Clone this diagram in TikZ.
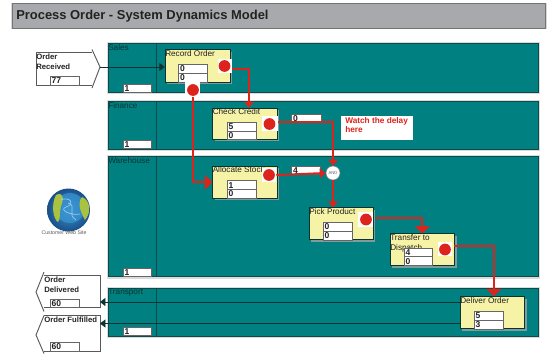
\documentclass[tikz,border=0pt]{standalone}
\usepackage{fontspec}
\setmainfont{Liberation Sans}
\usetikzlibrary{arrows.meta,calc}
\definecolor{lanefill}{HTML}{008080}
\definecolor{laneline}{HTML}{0F4A4A}
\definecolor{stickyfill}{HTML}{F6F2A6}
\definecolor{titlefill}{HTML}{A7A9AC}
\definecolor{flowred}{HTML}{DC241C}
\definecolor{shadowc}{HTML}{7F9C9C}
\definecolor{inkc}{HTML}{222222}
\definecolor{globeblue}{HTML}{3A97D4}
\definecolor{globedark}{HTML}{1A4F88}
\definecolor{globegreen}{HTML}{A9C23F}
\tikzset{
  lanebox/.style={draw=laneline,line width=0.5pt,fill=lanefill,inner sep=0pt},
  taskbox/.style={draw=laneline!70!black,line width=0.4pt,fill=stickyfill,inner sep=0pt},
  valbox/.style={draw=black!60,line width=0.5pt,fill=white,inner xsep=1.2pt,inner ysep=0pt,align=left,font=\fontsize{6.4}{6.4}\selectfont\bfseries,text=inkc},
  freebox/.style={fill=white,inner sep=0pt},
  lbl/.style={inner sep=0pt,anchor=north west,align=left,font=\fontsize{6.15}{7}\selectfont,text=inkc},
  lanelbl/.style={lbl,text=laneline!70!black},
  blbl/.style={lbl,font=\fontsize{5.8}{7.4}\selectfont\bfseries},
  notelbl/.style={lbl,font=\fontsize{6.2}{7.2}\selectfont\bfseries,text=flowred},
  reddot/.style={circle,fill=flowred,inner sep=0pt,minimum size=8.8pt},
  redflow/.style={draw=flowred,line width=1.5pt,-{Triangle[width=7pt,length=4.5pt]}},
  redflowbig/.style={draw=flowred,line width=1.5pt,-{Triangle[width=11pt,length=5.5pt]}},
  blackflow/.style={draw=laneline!70!black,line width=0.5pt,-{Triangle[width=6pt,length=4pt]}},
  gatec/.style={circle,draw=black!50,line width=0.4pt,fill=white,inner sep=0pt,minimum size=10.5pt,font=\fontsize{3.2}{3.2}\selectfont,text=black!60},
  portline/.style={draw=black!65,line width=0.7pt},
}
% name, x1, y1, x2, y2, style, text
\newcommand{\boxxy}[7]{%
  \pgfmathsetmacro{\bw}{(#4-#2)*0.75}%
  \pgfmathsetmacro{\bh}{(#5-#3)*0.75}%
  \node[#6,minimum width=\bw pt,minimum height=\bh pt] (#1) at ({(#2+#4)/2},{(#3+#5)/2}) {#7};%
}
\newcommand{\valxy}[6]{%
  \pgfmathsetmacro{\bw}{(#4-#2)*0.75}%
  \pgfmathsetmacro{\bh}{(#5-#3)*0.75}%
  \pgfmathsetmacro{\tw}{\bw-2.4}%
  \node[valbox,text width=\tw pt,minimum height=\bh pt,text height=4.6pt,text depth=0pt] (#1) at ({(#2+#4)/2},{(#3+#5)/2}) {#6};%
}
\newcommand{\taskxy}[5]{%
  \fill[shadowc] (#2+2,#3+2) rectangle (#4+2,#5+2);%
  \boxxy{#1}{#2}{#3}{#4}{#5}{taskbox}{}%
}
\newcommand{\lanexy}[8]{%
  \fill[black!14] (#2-1,#3-1) rectangle (#4+1.5,#5+2);%
  \boxxy{#1}{#2}{#3}{#4}{#5}{lanebox}{}%
  \draw[laneline,line width=0.5pt] (156.5,#3) -- (156.5,#5);%
  \node[lanelbl] (#1t) at (#2,#3+1) {#6};%
  \valxy{#1v}{123}{#7}{151}{#8}{1}%
}
\newcommand{\dotxy}[6]{%
  \boxxy{#1s}{#2}{#3}{#4}{#5}{freebox}{}%
  \node[reddot] (#1) at (#6) {};%
}
\begin{document}
\begin{tikzpicture}[x=0.75pt,y=-0.75pt]
\useasboundingbox (0,0) rectangle (553,354);
\fill[black!15] (11,2.5) rectangle (546.5,28.5);
\boxxy{title}{12}{3.5}{545.7}{28}{draw=black!55,line width=0.6pt,fill=titlefill,inner sep=0pt}{}
\node[inner sep=0pt,anchor=west,font=\fontsize{9.7}{11}\selectfont\bfseries,text=inkc] (titlet) at (16,16) {Process Order - System Dynamics Model};
% lanes
\lanexy{sales}{108}{43}{538}{92}{Sales}{84}{92}
\lanexy{finance}{108}{101}{538}{149}{Finance}{140.5}{148.5}
\lanexy{ware}{108}{156}{538}{276.5}{Warehouse}{268}{276}
\lanexy{trans}{108}{288}{538}{336}{Transport}{327}{335}
% external ports
\coordinate (rcvtip) at (100,67);
\coordinate (delvtip) at (36,292);
\coordinate (fulftip) at (36,335);
\draw[portline] (92,52.5) -- (36,52.5) -- (36,85) -- (92,85);
\draw[portline] (92,49.5) -- (rcvtip) -- (92,88);
\draw[portline] (44,275.5) -- (100,275.5) -- (100,307.7) -- (44,307.7);
\draw[portline] (44,272) -- (delvtip) -- (44,311.5);
\draw[portline] (44,315.5) -- (100,315.5) -- (100,351) -- (44,351);
\draw[portline] (44,315.5) -- (fulftip) -- (44,353.5);
\node[blbl] (rcvt) at (36,53.5) {Order\\Received};
\node[blbl] (delvt) at (44,276.5) {Order\\Delivered};
\node[blbl] (fulft) at (44,317) {Order Fulfilled};
\valxy{rcvv}{50}{76.5}{79}{85}{77}
\valxy{delvv}{50}{299}{79}{307.7}{60}
\valxy{fulfv}{50}{342}{79}{351}{60}
% globe
\begin{scope}
\clip (68.5,210) circle[radius=21.5];
\shade[inner color=globeblue,outer color=globedark,shading=radial] (68.5,210) circle[radius=21.5];
\fill[globeblue,opacity=0.7] (70,208) circle[radius=15];
\fill[globegreen] (56,195) .. controls (64,191) and (64,200) .. (61,206) .. controls (59,213) and (61,219) .. (58,222) .. controls (53,219) and (51,204) .. (56,195);
\fill[globegreen] (82,197) .. controls (90,200) and (92,212) .. (85,220) .. controls (82,214) and (76,204) .. (82,197);
\draw[white!50!globeblue,line width=0.5pt] (60,200) .. controls (70,196) and (76,204) .. (66,207) .. controls (58,210) and (72,216) .. (80,214) (68,203) .. controls (78,206) and (66,214) .. (76,220);
\end{scope}
\node[inner sep=0pt,font=\fontsize{3.9}{4}\selectfont,text=black!65] (webt) at (64,232.5) {Customer Web Site};
% tasks
\taskxy{rec}{165}{49.5}{230}{82}{}
\node[lbl] (rect) at (165,50) {Record Order};
\valxy{rec1}{178.5}{64}{207.5}{73}{0}
\valxy{rec2}{178.5}{73}{207.5}{82}{0}
\taskxy{chk}{212.5}{108}{277}{139}{}
\node[lbl] (chkt) at (212.5,108.5) {Check Credit};
\valxy{chk1}{227}{122}{256}{131}{5}
\valxy{chk2}{227}{131}{256}{139}{0}
\taskxy{alc}{212.5}{166}{277}{198}{}
\node[lbl] (alct) at (212.5,166.5) {Allocate Stock};
\valxy{alc1}{227}{180.5}{256}{189.5}{1}
\valxy{alc2}{227}{189.5}{256}{198}{0}
\taskxy{pck}{309}{207.7}{373}{239.7}{}
\node[lbl] (pckt) at (309,208.5) {Pick Product};
\valxy{pck1}{323}{222.5}{352}{231}{0}
\valxy{pck2}{323}{231}{352}{240}{0}
\taskxy{trf}{390}{233.7}{454.5}{265.5}{}
\node[lbl] (trft) at (390,234.5) {Transfer to\\Dispatch};
\valxy{trf1}{404}{248}{432.5}{256.5}{4}
\valxy{trf2}{404}{256.5}{432.5}{265.5}{0}
\taskxy{dlv}{460}{296.5}{524.5}{328.5}{}
\node[lbl] (dlvt) at (460,297.5) {Deliver Order};
\valxy{dlv1}{474}{311.5}{503}{320}{5}
\valxy{dlv2}{474}{320}{503}{329}{3}
% delays and note
\valxy{dly0}{291.5}{114}{321}{122.5}{0}
\valxy{dly4}{291.5}{166}{320}{174}{4}
\boxxy{note}{341}{116}{413}{139.5}{freebox}{}
\node[notelbl] (notet) at (345,117) {Watch the delay\\here};
\node[gatec] (andg) at (333,173) {AND};
% red dots
\dotxy{drec}{218}{59}{232}{73}{224.5,66}
\dotxy{dlow}{185}{82}{200}{97}{193,90}
\dotxy{dchk}{262}{116}{278}{131}{269.5,124}
\dotxy{dalc}{262}{168}{276}{182}{269,175}
\dotxy{dpck}{358}{212}{373}{227}{366,219.5}
\dotxy{dtrf}{438}{242}{452}{256}{445,249.5}
% red flows
\draw[redflow] ([yshift=-1.9pt]drecs.east) -| ([xshift=3.2pt]chk.north);
\draw[redflowbig] ([xshift=0.4pt]dlows.south) |- (alc.west |- dalcs.south);
\draw[redflow] ([yshift=1.5pt]dchks.east) -| (andg.north);
\draw[redflow] (dalcs.east) -- (andg.west);
\draw[redflow] (andg.south) -- (andg.south |- pck.north);
\draw[redflowbig] ([xshift=2pt,yshift=1.5pt]dpcks.east) -| (trf.north);
\draw[redflowbig] ([xshift=1.5pt,yshift=1.9pt]dtrfs.east) -| ([xshift=1.2pt]dlv.north);
% black flows
\draw[blackflow] (rcvtip) -- (rec.west |- rcvtip);
\draw[blackflow] (dlv.west |- 0,302) -- (100,302);
\draw[blackflow] (dlv.west |- 0,323.5) -- (100,323.5);
\end{tikzpicture}
\end{document}
